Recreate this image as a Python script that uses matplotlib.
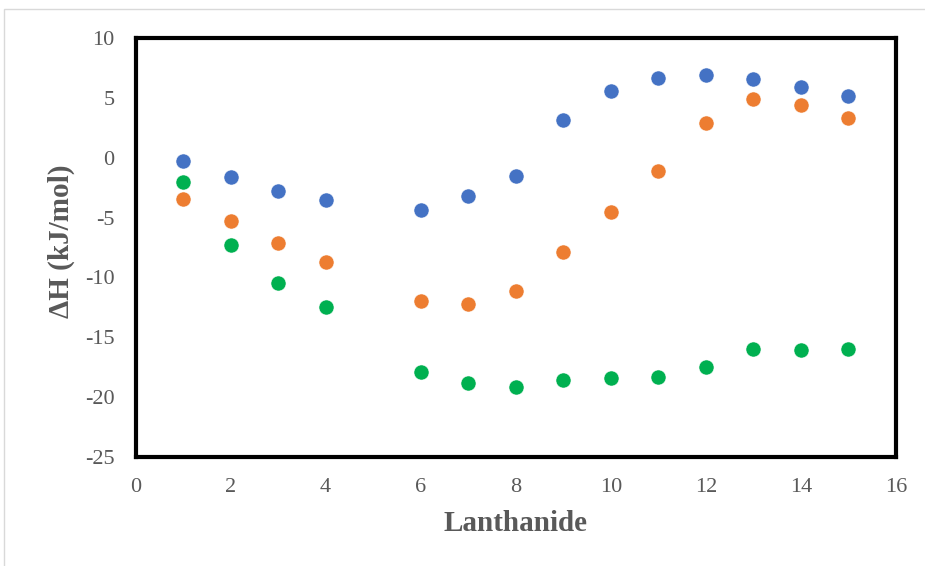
import numpy as np
import matplotlib.pyplot as plt
from matplotlib.patches import Rectangle

# Lanthanide index
lanthanide = [1, 2, 3, 4, 6, 7, 8, 9, 10, 11, 12, 13, 14, 15]

# enthalpy values, kJ/mol, one list per series
dh_blue = [-0.3, -1.6, -2.8, -3.5, -4.4, -3.2, -1.5, 3.2, 5.6, 6.65, 6.9, 6.6, 5.95, 5.15]
dh_orange = [-3.45, -5.25, -7.1, -8.7, -12.0, -12.25, -11.1, -7.9, -4.5, -1.1, 2.9, 4.9, 4.4, 3.3]
dh_green = [-2.0, -7.3, -10.45, -12.5, -17.9, -18.8, -19.15, -18.6, -18.4, -18.3, -17.5, -15.95, -16.1, -15.95]

colors = ["#4472C4", "#ED7D31", "#00B050"]

xticks = list(range(0, 17, 2))
yticks = list(range(-25, 11, 5))

plt.rcParams['font.family'] = ['Liberation Serif', 'DejaVu Serif']
plt.rcParams['axes.unicode_minus'] = False

fig = plt.figure(figsize=(9.25, 5.66), dpi=100)
# thin grey chart-area frame
fig.patches.append(Rectangle((4 / 925, -0.01), 1.0, 1 - 9 / 566 + 0.01, transform=fig.transFigure,
                             fill=False, edgecolor="#D9D9D9", linewidth=1.0))

ax = fig.add_axes([135.5 / 925, 1 - 456.7 / 566, (896 - 135.5) / 925, (456.7 - 38.3) / 566])

for ys, c in zip([dh_blue, dh_orange, dh_green], colors):
    ax.scatter(lanthanide, ys, s=118, color=c, edgecolors="white", linewidths=0.4, zorder=3, clip_on=False)

ax.set_xlim(0, 16)
ax.set_ylim(-25, 10)
ax.set_xticks(xticks)
ax.set_yticks(yticks)
ax.tick_params(length=0, labelsize=16, labelcolor="#595959")
ax.tick_params(axis="y", pad=15)
ax.tick_params(axis="x", pad=15)

for s in ax.spines.values():
    s.set_linewidth(3)
    s.set_color("black")

ax.set_xlabel("Lanthanide", fontsize=21, fontweight="bold", color="#595959", labelpad=10)
ax.set_ylabel("ΔH (kJ/mol)", fontsize=21, fontweight="bold", color="#595959")
ax.yaxis.set_label_coords(-0.08, 0.515)

fig.savefig("out.png", dpi=100)
